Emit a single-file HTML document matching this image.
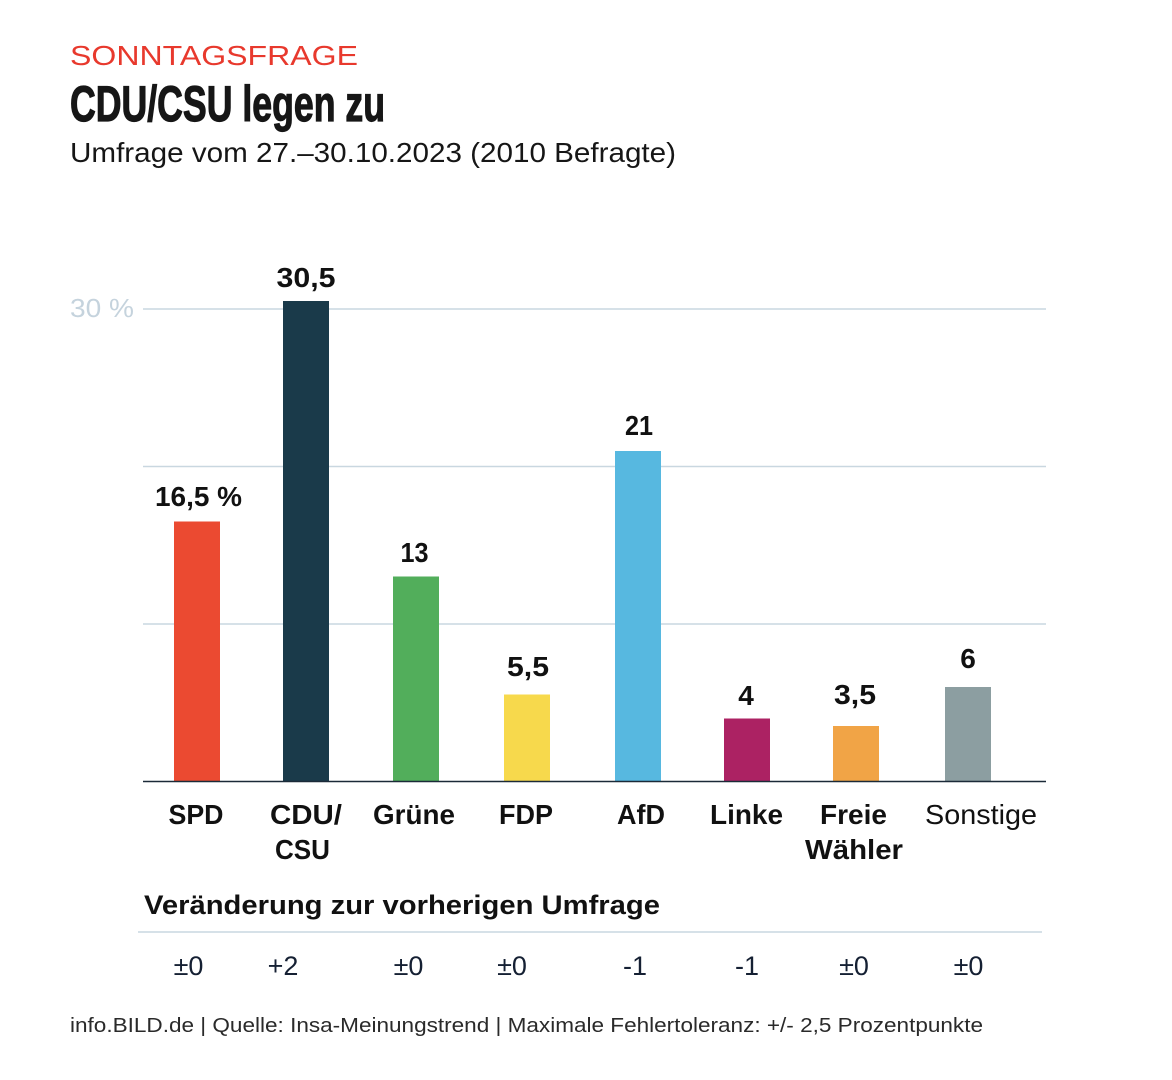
<!DOCTYPE html>
<html>
<head>
<meta charset="utf-8">
<style>
  html, body { margin:0; padding:0; background:#ffffff; }
  svg { display:block; }
  text { font-family: "Liberation Sans", "DejaVu Sans", sans-serif; }
</style>
</head>
<body>
<svg width="1172" height="1080" viewBox="0 0 1172 1080" xmlns="http://www.w3.org/2000/svg">
  <rect width="1172" height="1080" fill="#ffffff"/>

  <!-- Header -->
  <text x="70" y="65" font-size="28" fill="#e8392d" textLength="288" lengthAdjust="spacingAndGlyphs">SONNTAGSFRAGE</text>
  <text x="70" y="121" font-size="50" font-weight="bold" fill="#161616" stroke="#161616" stroke-width="1.2" textLength="315" lengthAdjust="spacingAndGlyphs">CDU/CSU legen zu</text>
  <text x="70" y="162" font-size="28" fill="#161616" textLength="606" lengthAdjust="spacingAndGlyphs">Umfrage vom 27.–30.10.2023 (2010 Befragte)</text>

  <!-- Gridlines -->
  <line x1="143" y1="309" x2="1046" y2="309" stroke="#c9d7e0" stroke-width="1.5"/>
  <line x1="143" y1="466.5" x2="1046" y2="466.5" stroke="#c9d7e0" stroke-width="1.5"/>
  <line x1="143" y1="624" x2="1046" y2="624" stroke="#c9d7e0" stroke-width="1.5"/>
  <text x="70" y="317" font-size="26" fill="#c5d3dd" textLength="64" lengthAdjust="spacingAndGlyphs">30 %</text>

  <!-- Bars -->
  <rect x="174" y="521.5" width="46" height="260" fill="#eb4a31"/>
  <rect x="283" y="301" width="46" height="480.5" fill="#1a3a4a"/>
  <rect x="393" y="576.5" width="46" height="205" fill="#52ae5b"/>
  <rect x="504" y="694.5" width="46" height="87" fill="#f7d94c"/>
  <rect x="615" y="451" width="46" height="330.5" fill="#57b8e0"/>
  <rect x="724" y="718.5" width="46" height="63" fill="#ac2263"/>
  <rect x="833" y="726" width="46" height="55.5" fill="#f1a446"/>
  <rect x="945" y="687" width="46" height="94.5" fill="#8c9ea1"/>

  <!-- Axis -->
  <line x1="143" y1="781.5" x2="1046" y2="781.5" stroke="#1b2a38" stroke-width="1.5"/>

  <!-- Value labels -->
  <g font-size="28" font-weight="bold" fill="#111111" text-anchor="middle">
    <text x="198.5" y="506" textLength="87" lengthAdjust="spacingAndGlyphs">16,5 %</text>
    <text x="306" y="287" textLength="59" lengthAdjust="spacingAndGlyphs">30,5</text>
    <text x="414.5" y="562" textLength="28" lengthAdjust="spacingAndGlyphs">13</text>
    <text x="528" y="676" textLength="42" lengthAdjust="spacingAndGlyphs">5,5</text>
    <text x="639" y="435" textLength="28" lengthAdjust="spacingAndGlyphs">21</text>
    <text x="746" y="705">4</text>
    <text x="855" y="704" textLength="42" lengthAdjust="spacingAndGlyphs">3,5</text>
    <text x="968" y="668">6</text>
  </g>

  <!-- Category labels -->
  <g font-size="28" font-weight="bold" fill="#111111" text-anchor="middle">
    <text x="196" y="824" textLength="55" lengthAdjust="spacingAndGlyphs">SPD</text>
    <text x="306" y="824" textLength="72" lengthAdjust="spacingAndGlyphs">CDU/</text>
    <text x="302.5" y="859" textLength="55" lengthAdjust="spacingAndGlyphs">CSU</text>
    <text x="414" y="824" textLength="82" lengthAdjust="spacingAndGlyphs">Grüne</text>
    <text x="526" y="824" textLength="54" lengthAdjust="spacingAndGlyphs">FDP</text>
    <text x="641" y="824" textLength="48" lengthAdjust="spacingAndGlyphs">AfD</text>
    <text x="746.5" y="824" textLength="73" lengthAdjust="spacingAndGlyphs">Linke</text>
    <text x="853.5" y="824" textLength="67" lengthAdjust="spacingAndGlyphs">Freie</text>
    <text x="854" y="859" textLength="98" lengthAdjust="spacingAndGlyphs">Wähler</text>
  </g>
  <text x="981" y="824" font-size="28" fill="#111111" text-anchor="middle" textLength="112" lengthAdjust="spacingAndGlyphs">Sonstige</text>

  <!-- Change section -->
  <text x="144" y="914" font-size="27" font-weight="bold" fill="#111111" textLength="516" lengthAdjust="spacingAndGlyphs">Veränderung zur vorherigen Umfrage</text>
  <line x1="138" y1="932" x2="1042" y2="932" stroke="#c9d7e0" stroke-width="1.5"/>

  <g font-size="27" fill="#152033" text-anchor="middle">
    <text x="188.5" y="975">±0</text>
    <text x="283" y="975">+2</text>
    <text x="408.5" y="975">±0</text>
    <text x="512" y="975">±0</text>
    <text x="635" y="975">-1</text>
    <text x="747" y="975">-1</text>
    <text x="854" y="975">±0</text>
    <text x="968.5" y="975">±0</text>
  </g>

  <!-- Footer -->
  <text x="70" y="1032" font-size="20" fill="#2a2a2a" textLength="913" lengthAdjust="spacingAndGlyphs">info.BILD.de | Quelle: Insa-Meinungstrend | Maximale Fehlertoleranz: +/- 2,5 Prozentpunkte</text>
</svg>
</body>
</html>
